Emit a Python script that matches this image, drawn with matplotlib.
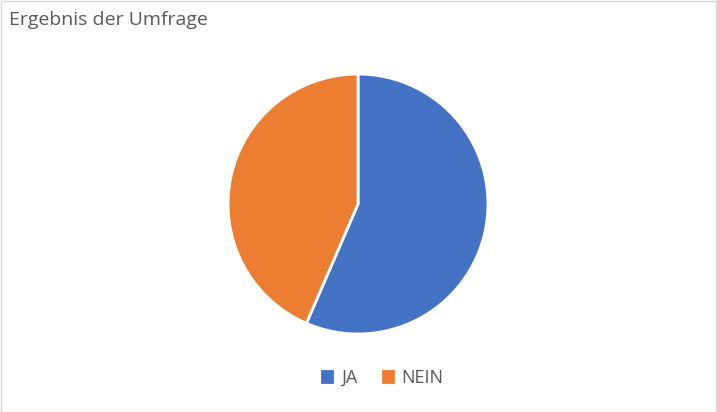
import matplotlib.pyplot as plt
from matplotlib.patches import Rectangle

labels = ["JA", "NEIN"]
values = [56.5, 43.5]
colors = ["#4472C4", "#ED7D31"]

plt.rcParams.update({"font.family": ["Open Sans", "DejaVu Sans"]})
fig = plt.figure(figsize=(7.17, 4.12), dpi=100)
fig.patches.append(Rectangle((0.5 / 717, 0.5 / 412), 1 - 1.5 / 717, 1 - 1.5 / 412,
                             transform=fig.transFigure, fill=False,
                             edgecolor="#D9D9D9", lw=1))

# pie centre ~ (358, 204) px, radius ~130 px
ax = fig.add_axes([(358 - 131) / 717, 1 - (204 + 131) / 412, 262 / 717, 262 / 412])
wedges, _ = ax.pie(values, colors=colors, startangle=90, counterclock=False,
                   wedgeprops=dict(edgecolor="white", linewidth=2))
ax.set_aspect("equal")
ax.set_xlim(-1.008, 1.008)
ax.set_ylim(-1.008, 1.008)

fig.text(9 / 717, 1 - 20 / 412, "Ergebnis der Umfrage", fontsize=14,
         color="#595959", va="center", ha="left")

fig.legend(wedges, labels, loc="center", bbox_to_anchor=(383 / 717, 1 - 378 / 412),
           ncol=2, frameon=False, fontsize=13, handlelength=0.55, handleheight=0.55,
           handletextpad=0.5, columnspacing=1.4, labelcolor="#595959",
           borderaxespad=0)
for h in fig.legends[0].legend_handles:
    h.set_edgecolor(h.get_facecolor())

fig.savefig("out.png", dpi=100)
